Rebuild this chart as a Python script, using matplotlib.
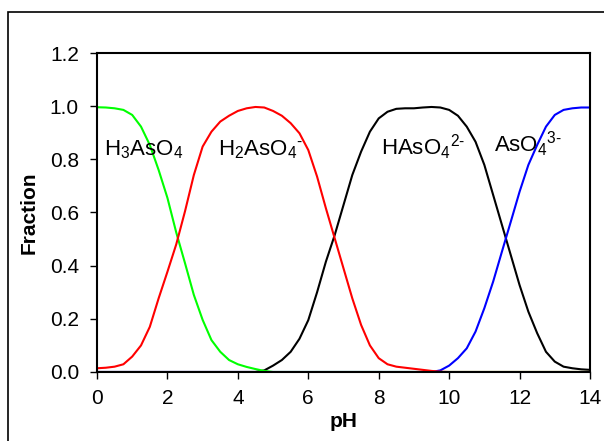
import matplotlib
matplotlib.use("Agg")
import matplotlib.pyplot as plt
from matplotlib.patches import Rectangle

plt.rcParams['font.family'] = ['Liberation Sans', 'DejaVu Sans']
plt.rcParams['mathtext.fontset'] = 'custom'
plt.rcParams['mathtext.rm'] = 'Liberation Sans'
plt.rcParams['mathtext.it'] = 'Liberation Sans'

# values, pH step 0.25
ph = [i * 0.25 for i in range(57)]
h3aso4 = [0.996, 0.995, 0.992, 0.986, 0.967, 0.923, 0.854, 0.76, 0.655, 0.525,
          0.409, 0.29, 0.196, 0.12, 0.076, 0.045, 0.029, 0.019, 0.011, 0.004,
          0.0] + [0.0] * 36
h2aso4 = [0.014, 0.016, 0.02, 0.029, 0.058, 0.10, 0.17, 0.277, 0.377, 0.48,
          0.605, 0.741, 0.848, 0.904, 0.942, 0.964, 0.982, 0.992, 0.997, 0.995,
          0.982, 0.964, 0.936, 0.898, 0.835, 0.735, 0.616, 0.503, 0.39, 0.277,
          0.177, 0.10, 0.052, 0.029, 0.02, 0.016, 0.012, 0.008, 0.004, 0.001,
          0.0] + [0.0] * 16
haso4 = [0.0] * 18 + [
          0.0, 0.006, 0.024, 0.045, 0.076, 0.125, 0.195, 0.30, 0.415, 0.515,
          0.628, 0.741, 0.829, 0.904, 0.954, 0.979, 0.99, 0.992, 0.992, 0.995,
          0.997, 0.995, 0.986, 0.964, 0.923, 0.866, 0.779, 0.666, 0.553, 0.44,
          0.327, 0.227, 0.146, 0.076, 0.039, 0.02, 0.014, 0.01, 0.008]
aso4 = [0.0] * 38 + [
          0.0, 0.006, 0.024, 0.052, 0.089, 0.152, 0.24, 0.34, 0.453, 0.565,
          0.678, 0.779, 0.854, 0.923, 0.967, 0.986, 0.992, 0.995, 0.995]

fig = plt.figure(figsize=(6.04, 4.41), dpi=100)
ax = fig.add_axes([0.1606, 0.1565, 0.8162, 0.7233])

ax.plot(ph, haso4, color='black', lw=1.5)
ax.plot(ph, aso4, color='#0000ff', lw=1.5)
ax.plot(ph, h3aso4, color='#00ff00', lw=1.5)
ax.plot(ph, h2aso4, color='#ff0000', lw=1.5)

ax.set_xlim(0, 14)
ax.set_ylim(0, 1.2)
ax.set_xticks(range(0, 15, 2))
ax.set_yticks([0, 0.2, 0.4, 0.6, 0.8, 1.0, 1.2])
ax.set_yticklabels(['0.0', '0.2', '0.4', '0.6', '0.8', '1.0', '1.2'])
ax.tick_params(direction='out', length=5, width=1, labelsize=15)
ax.tick_params(axis='x', pad=7)
ax.tick_params(axis='y', pad=8)
for s in ax.spines.values():
    s.set_linewidth(1.5)

ax.set_xlabel('pH', fontsize=15, fontweight='bold', labelpad=3)
ax.set_ylabel('Fraction', fontsize=15, fontweight='bold', labelpad=8)

fs = 16
ax.text(0.2, 0.816, r'H$_3$AsO$_4$', fontsize=fs, va='baseline')
ax.text(3.45, 0.816, r'H$_2$AsO$_4$$^{\text{-}}$', fontsize=fs, va='baseline')
ax.text(8.06, 0.816, r'HAsO$_4$$^{\text{2-}}$', fontsize=fs, va='baseline')
ax.text(11.26, 0.829, r'AsO$_4$$^{\text{3-}}$', fontsize=fs, va='baseline')

# outer frame, cut off at right and bottom
fig.patches.append(Rectangle((8 / 604, -0.1), 1.0, 1 - 12 / 441 + 0.1,
                             transform=fig.transFigure, fill=False,
                             lw=1.2, edgecolor='black'))

fig.savefig('out.png', dpi=100)
